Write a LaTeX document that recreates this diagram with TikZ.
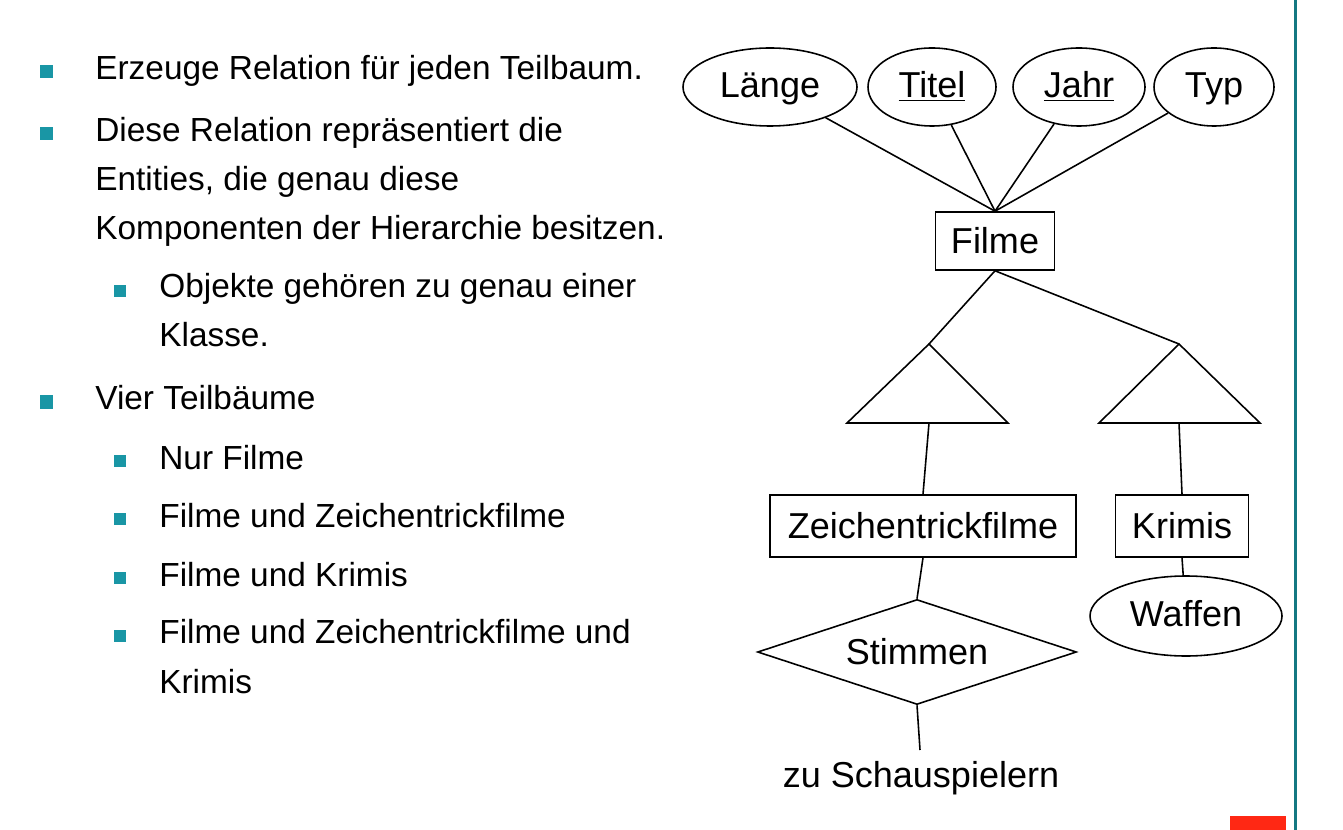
\documentclass[tikz,border=0pt]{standalone}
\usepackage{fontspec}
\setmainfont{Liberation Sans}
\usetikzlibrary{shapes.geometric}
\definecolor{bulletcol}{RGB}{25,150,165}
\definecolor{rulecol}{RGB}{20,120,130}
\definecolor{markcol}{RGB}{255,40,20}
\begin{document}
\begin{tikzpicture}[x=0.2mm,y=-0.2mm,
    txt/.style={anchor=base west, align=left, inner sep=0pt, font=\fontsize{19pt}{27.9pt}\selectfont},
    sq/.style={fill=bulletcol, minimum size=2.6mm, inner sep=0pt},
    sqs/.style={fill=bulletcol, minimum size=2.3mm, inner sep=0pt},
    er/.style={font=\fontsize{20.5pt}{24pt}\selectfont, line width=0.9pt, inner sep=0pt},
    attr/.style={er, draw, ellipse, minimum height=15.6mm, text height=16.4pt, text depth=3.9pt},
    entity/.style={er, draw, rectangle, minimum height=12.4mm},
    rel/.style={er, draw, diamond, aspect=3, minimum width=63.8mm, minimum height=21mm},
    link/.style={line width=0.9pt}]
    \useasboundingbox (0,0) rectangle (1343,830);
    \fill[rulecol] (1293.5,0) rectangle (1296.5,830);
    \fill[markcol] (1230,816) rectangle (1286,830);

    \node[sq] (b1) at (46,72) {};
    \node[txt] (item1) at (95,80) {Erzeuge Relation für jeden Teilbaum.};
    \node[sq] (b2) at (46,134) {};
    \node[txt] (item2) at (95,240) {Diese Relation repräsentiert die\\Entities, die genau diese\\Komponenten der Hierarchie besitzen.};
    \node[sqs] (b3) at (120,291) {};
    \node[txt] (item3) at (159,347) {Objekte gehören zu genau einer\\Klasse.};
    \node[sq] (b4) at (46,402) {};
    \node[txt] (item4) at (95,410) {Vier Teilbäume};
    \node[sqs] (b5) at (120,461) {};
    \node[txt] (item5) at (159,469) {Nur Filme};
    \node[sqs] (b6) at (120,519) {};
    \node[txt] (item6) at (159,527) {Filme und Zeichentrickfilme};
    \node[sqs] (b7) at (120,578) {};
    \node[txt] (item7) at (159,586) {Filme und Krimis};
    \node[sqs] (b8) at (120,636) {};
    \node[txt] (item8) at (159,693) {Filme und Zeichentrickfilme und\\Krimis};

    \node[attr, minimum width=34.8mm] (laenge) at (770,87) {Länge};
    \node[attr, minimum width=25.6mm] (titel) at (932,87) {\underline{Titel}};
    \node[attr, minimum width=26.4mm] (jahr) at (1079,87) {\underline{Jahr}};
    \node[attr, minimum width=24mm] (typ) at (1214,87) {Typ};
    \node[entity, minimum width=23.8mm, minimum height=11.6mm] (filme) at (995,241) {Filme};
    \draw[link] (laenge) -- (filme.north);
    \draw[link] (titel) -- (filme.north);
    \draw[link] (jahr) -- (filme.north);
    \draw[link] (typ) -- (filme.north);

    \coordinate (isaL) at (929,344);
    \coordinate (isaLb) at (929,423);
    \coordinate (isaR) at (1179,344);
    \coordinate (isaRb) at (1179,423);
    \draw[link] (isaL) -- (847,423) -- (1008,423) -- cycle;
    \draw[link] (isaR) -- (1099,423) -- (1260,423) -- cycle;
    \draw[link] (filme.south) -- (isaL);
    \draw[link] (filme.south) -- (isaR);

    \node[entity, minimum width=61.2mm] (zeichen) at (923,526) {Zeichentrickfilme};
    \node[entity, minimum width=26.6mm] (krimis) at (1182,526) {Krimis};
    \draw[link] (isaLb) -- (zeichen.north);
    \draw[link] (isaRb) -- (krimis.north);

    \node[rel] (stimmen) at (917,652) {Stimmen};
    \node[attr, minimum width=38.4mm, minimum height=16mm] (waffen) at (1186,616) {Waffen};
    \draw[link] (zeichen.south) -- (stimmen.north);
    \draw[link] (krimis.south) -- (waffen);

    \coordinate (zuS) at (920,750);
    \node[er] (schausp) at (921,778) {zu Schauspielern};
    \draw[link] (stimmen.south) -- (zuS);
\end{tikzpicture}
\end{document}
